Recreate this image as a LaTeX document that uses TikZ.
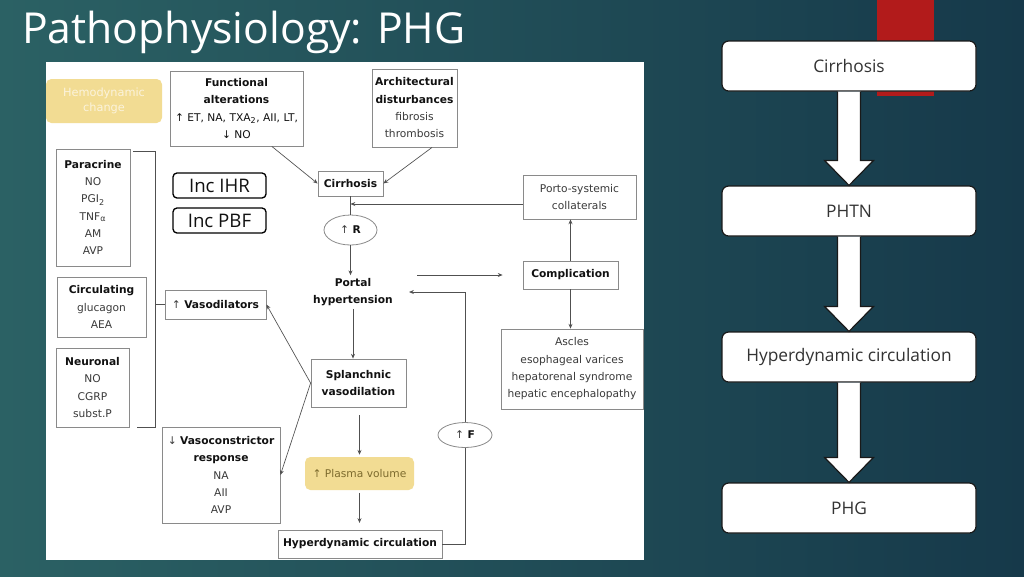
\documentclass[tikz,border=0pt]{standalone}
\usepackage{fontspec}
\setmainfont{DejaVu Sans}
\newfontfamily\slidefont{Open Sans}
\usepackage{xcolor}
\usepackage{tikz}
\usetikzlibrary{positioning,calc,arrows.meta,shapes.geometric}
\definecolor{deepsea}{HTML}{16394A}
\definecolor{shallow}{HTML}{2B6164}
\definecolor{alarm}{HTML}{B21B1B}
\definecolor{sand}{HTML}{F2DC93}
\definecolor{sandink}{HTML}{7D6B2E}
\definecolor{hemoink}{HTML}{FBF3DC}
\definecolor{frame}{HTML}{8A8A8A}
\definecolor{ink}{HTML}{111111}
\definecolor{inkii}{HTML}{3A3A3A}
\definecolor{wire}{HTML}{505050}
\newcommand\hd[1]{{\bfseries\color{ink}#1}}
\tikzset{
  wh/.style 2 args = {minimum width=#1*0.75pt, minimum height=#2*0.75pt},
  card/.style      = {draw=frame, fill=white, line width=0.6pt, inner sep=1pt, align=center,
                      font=\fontsize{8}{13}\selectfont\color{inkii}},
  sandbox/.style   = {fill=sand, rounded corners=4pt, inner sep=1pt, align=center},
  oval/.style      = {ellipse, draw=frame, fill=white, line width=0.6pt, inner sep=0pt,
                      font=\fontsize{8}{10}\selectfont\color{inkii}},
  incbox/.style    = {draw=black, fill=white, rounded corners=3pt, line width=1pt, inner sep=0pt,
                      font=\slidefont\fontsize{14}{16}\selectfont\color{ink}},
  slidebox/.style  = {draw=black!90, fill=white, rounded corners=5pt, line width=0.9pt, inner sep=0pt,
                      font=\slidefont\fontsize{13}{15}\selectfont\color{black!80}},
  bigarrow/.style  = {draw=black!90, fill=white, line width=0.9pt},
  wireline/.style  = {draw=wire, line width=0.5pt},
  flow/.style      = {-{Stealth[length=3.6pt,width=3pt]}, draw=wire, line width=0.5pt},
}

\begin{document}
\begin{tikzpicture}[x=0.75pt,y=-0.75pt]
\path[use as bounding box] (0,0) rectangle (1024,576);

% ---- slide ground -------------------------------------------------------
\shade[left color=shallow, right color=deepsea] (0,0) rectangle (1024,576);
\fill[alarm] (877,0) rectangle (934,96);
\node[anchor=base west, inner sep=0pt, font=\slidefont\fontsize{32}{36}\selectfont, text=white] (title) at (22,43) {Pathophysiology: PHG};

% ---- the figure ---------------------------------------------------------
\fill[white] (46,62) rectangle (644,560);

\node[sandbox, wh={116}{44}, font=\fontsize{8.5}{11}\selectfont\color{hemoink}] (hemo) at (104,101) {Hemodynamic\\change};

\node[card, wh={133}{75}] (func) at (236.5,108.5)
  {\hd{Functional}\\\hd{alterations}\\\textcolor{ink}{↑ ET, NA, TXA\textsubscript{2}, AII, LT,}\\\textcolor{ink}{↓ NO}};
\node[card, wh={85}{78}] (arch) at (414.5,108) {\hd{Architectural}\\\hd{disturbances}\\fibrosis\\thrombosis};
\node[card, wh={65}{25}] (cirr) at (350.5,183.5) {\hd{Cirrhosis}};
\node[card, wh={113}{44}] (porto) at (579.5,197) {Porto-systemic\\collaterals};
\node[oval, wh={53}{30}] (rup) at (350.5,230) {↑ \hd{R}};
\node[align=center, inner sep=2pt, font=\fontsize{8}{13}\selectfont] (portal) at (353,292) {\hd{Portal}\\\hd{hypertension}};
\node[card, wh={95}{28}] (compl) at (570.5,275) {\hd{Complication}};
\node[card, wh={142}{80}] (ascles) at (572,369) {Ascles\\esophageal varices\\hepatorenal syndrome\\hepatic encephalopathy};
\node[card, wh={95}{48}] (splanch) at (358.5,383) {\hd{Splanchnic}\\\hd{vasodilation}};
\node[sandbox, wh={109}{33}, font=\fontsize{8}{10}\selectfont\color{sandink}] (plasma) at (359.5,473.5) {↑ Plasma volume};
\node[card, wh={164}{28}] (hyper) at (360,544) {\hd{Hyperdynamic circulation}};
\node[oval, wh={54}{25}] (fup) at (465,435) {↑ \hd{F}};

\node[card, wh={101}{29}] (vasod) at (215.5,304.5) {↑ \hd{Vasodilators}};
\node[card, wh={118}{96}] (vasoc) at (221,475) {↓ \hd{Vasoconstrictor}\\\hd{response}\\NA\\AII\\AVP};

\node[card, wh={74}{117}] (para) at (93,207.5) {\hd{Paracrine}\\NO\\PGI\textsubscript{2}\\TNF\textsubscript{α}\\AM\\AVP};
\node[card, wh={89}{60}] (circ) at (101.5,307) {\hd{Circulating}\\glucagon\\AEA};
\node[card, wh={73}{79}] (neur) at (92.5,387.5) {\hd{Neuronal}\\NO\\CGRP\\subst.P};

\node[incbox, wh={93}{25}] (ihr) at (219.5,185.5) {Inc IHR};
\node[incbox, wh={93}{25}] (pbf) at (219.5,220.5) {Inc PBF};

% ---- connectors ---------------------------------------------------------
\coordinate (join) at (350.5,204);
\draw[flow] (func.-47) -- (cirr.west);
\draw[flow] (arch.-66) -- (cirr.east);
\draw[wireline] (cirr.south) -- (rup.north);
\draw[flow] (porto.west |- join) -- (join);
\draw[flow] (rup.south) -- (rup.south |- portal.north);
\draw[flow, shorten <=16pt, shorten >=15pt] (portal.east |- compl.west) -- (compl.west);
\draw[flow] (compl.north) -- (compl.north |- porto.south);
\draw[flow] (compl.south) -- (compl.south |- ascles.north);
\draw[flow] (portal.south) -- (portal.south |- splanch.north);
\draw[flow, shorten <=6pt, shorten >=1.5pt] (plasma.north |- splanch.south) -- (plasma.north);
\draw[flow, shorten <=2pt, shorten >=5pt] (plasma.south) -- (plasma.south |- hyper.north);
\draw[wireline] (hyper.east) -| (fup.south);
\draw[flow, shorten >=10pt] (fup.north) |- (portal.east);
\draw[flow] (splanch.west) -- (vasod.east);
\draw[flow] (splanch.west) -- (vasoc.east);

% bracket round the three sources
\draw[wireline] (133,151) -| (155,427) -- (137,427);
\draw[wireline] (155,304.5) -- (vasod.west);

% ---- the short chain ----------------------------------------------------
\node[slidebox, wh={254}{50}] (rc1) at (849,66) {Cirrhosis};
\node[slidebox, wh={254}{50}] (rc2) at (849,211) {PHTN};
\node[slidebox, wh={254}{50}] (rc3) at (849,357) {Hyperdynamic circulation};
\node[slidebox, wh={254}{50}] (rc4) at (849,508) {PHG};
\foreach \a/\b in {rc1/rc2, rc2/rc3, rc3/rc4}{
  \draw[bigarrow] ($(\a.south)+(-11.5,0)$) -- ($(\b.north)+(-11.5,-25)$) -- ($(\b.north)+(-24.5,-25)$)
    -- (\b.north) -- ($(\b.north)+(24.5,-25)$) -- ($(\b.north)+(11.5,-25)$) -- ($(\a.south)+(11.5,0)$);
}

\end{tikzpicture}
\end{document}
